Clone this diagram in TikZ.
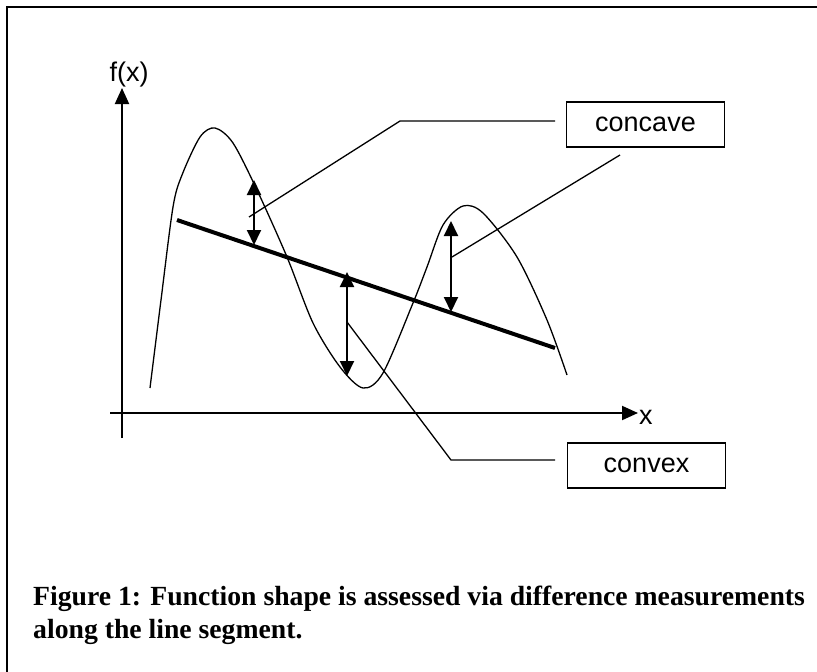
\documentclass[tikz,border=0pt]{standalone}
\usepackage{fontspec}
\setmainfont{Liberation Serif}
\setsansfont{Liberation Sans}
\usetikzlibrary{arrows.meta}
\begin{document}
\begin{tikzpicture}[x=1pt,y=-1pt,
  frame/.style={line width=2pt},
  axis/.style={line width=2pt,-{Triangle[width=14pt,length=16pt]}},
  curve/.style={line width=1.3pt},
  chord/.style={line width=4pt},
  meas/.style={line width=2pt,{Triangle[width=14pt,length=15pt]}-{Triangle[width=14pt,length=15pt]}},
  leader/.style={line width=1.3pt},
  labelbox/.style={draw,line width=1.5pt,minimum width=158pt,minimum height=45pt,inner sep=0pt,font=\sffamily\fontsize{27}{32}\selectfont},
  axlabel/.style={inner sep=0pt,font=\sffamily\fontsize{27}{32}\selectfont},
  caption/.style={inner sep=0pt,anchor=base west,font=\rmfamily\bfseries\fontsize{27.7}{33}\selectfont}
]
\useasboundingbox (0,0) rectangle (817,672);
% frame (top and left edges visible)
\coordinate (fbl) at (7,673);
\coordinate (ftl) at (7,7);
\coordinate (ftr) at (818,7);
\draw[frame] (fbl) -- (ftl) -- (ftr);
% axes
\coordinate (ybot) at (122,438);
\coordinate (ytop) at (122,88);
\coordinate (xleft) at (110,413);
\coordinate (xright) at (638,413);
\draw[axis] (ybot) -- (ytop);
\draw[axis] (xleft) -- (xright);
\node[axlabel] (fx) at (129,75) {f(x)};
\node[axlabel,anchor=west] (xl) at (639,417) {x};
% function curve
\draw[curve] plot[smooth,tension=0.5] coordinates {
 (150,388) (161,300) (173,207) (182,175) (200,137) (215,128) (233,143)
 (257,190) (287,257) (313,323) (340,367) (363,388) (383,373) (413,303)
 (427,267) (443,225) (463,206) (483,213) (517,257) (547,320) (567,375)};
% chord
\coordinate (c1) at (177,220);
\coordinate (c2) at (555,348);
\draw[chord] (c1) -- (c2);
% measurement arrows
\coordinate (m1t) at (254,180);
\coordinate (m1b) at (254,245);
\coordinate (m2t) at (347,272);
\coordinate (m2b) at (347,376);
\coordinate (m3t) at (451,221);
\coordinate (m3b) at (451,312);
\draw[meas] (m1t) -- (m1b);
\draw[meas] (m2t) -- (m2b);
\draw[meas] (m3t) -- (m3b);
% label boxes
\node[labelbox] (concave) at (645.5,124.5) {concave};
\node[labelbox] (convex) at (646.5,465.5) {convex};
% leaders
\coordinate (l1a) at (555,121);
\coordinate (l1b) at (400,121);
\coordinate (l1c) at (249,217);
\draw[leader] (l1a) -- (l1b) -- (l1c);
\coordinate (l2a) at (620,155);
\coordinate (l2b) at (452,257);
\draw[leader] (l2a) -- (l2b);
\coordinate (l3a) at (555,460);
\coordinate (l3b) at (451,460);
\coordinate (l3c) at (347,322);
\draw[leader] (l3a) -- (l3b) -- (l3c);
% caption
\node[caption] (cap1) at (33,605) {Figure 1: Function shape is assessed via difference measurements};
\node[caption] (cap2) at (33,638) {along the line segment.};
\end{tikzpicture}
\end{document}
